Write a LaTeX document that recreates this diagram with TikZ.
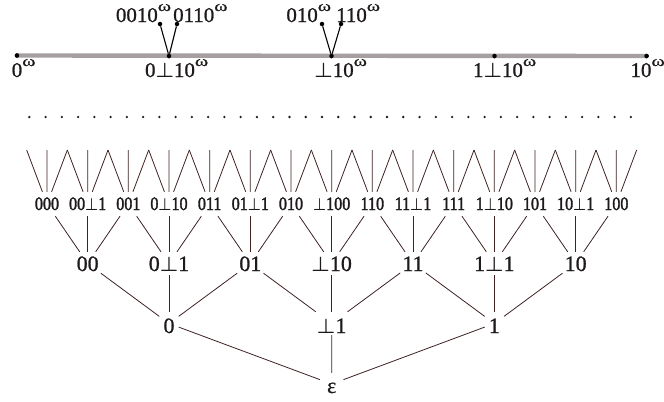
\documentclass[tikz,border=0pt]{standalone}
\usepackage{fontspec}
\setmainfont{Liberation Serif}[FakeBold=1]
\newfontfamily\heavyser{Liberation Serif}[FakeBold=2]
\usepackage{graphicx}
\definecolor{edgec}{RGB}{62,34,34}
\definecolor{ink}{RGB}{30,26,26}
\definecolor{barc}{RGB}{165,159,159}
\newcommand{\om}{\raisebox{11bp}{\fontsize{15}{15}\selectfont\scalebox{1.35}[1]{ω}}}
\newcommand{\nar}[1]{\scalebox{0.85}[1]{#1}}
\newcommand{\bt}{{\boldmath$\bot$}}
\tikzset{
 lone/.style={font=\fontsize{22}{22}\selectfont, text height=20bp, text depth=1bp, inner ysep=1bp, inner xsep=4bp, anchor=base, text=ink},
 ltwo/.style={font=\fontsize{22}{22}\selectfont, text height=18bp, text depth=3bp, inner ysep=1bp, inner xsep=2bp, anchor=base, text=ink},
 lthree/.style={font=\heavyser\fontsize{19}{19}\selectfont, text height=17bp, text depth=5bp, inner ysep=1bp, inner xsep=0.5bp, anchor=base, text=ink},
 lroot/.style={font=\fontsize{22}{22}\selectfont, text height=19bp, text depth=1bp, inner ysep=1bp, inner xsep=7bp, anchor=base, text=ink},
 ltop/.style={font=\fontsize{21}{21}\selectfont, inner sep=0pt, text=ink},
 tedge/.style={draw=edgec, line width=0.8bp},
 kedge/.style={draw=black, line width=1.1bp},
 pdot/.style={circle, fill=black, inner sep=0pt, minimum size=4.5bp},
 grayline/.style={draw=barc, line width=4.4bp}
}
\begin{document}
\begin{tikzpicture}[x=1bp,y=-1bp]
\useasboundingbox (0,0) rectangle (664,401);

% gray line with limit points
\node[pdot] (g0) at (17,55.5) {};
\node[pdot] (g1) at (169,56) {};
\node[pdot] (g2) at (331.5,56) {};
\node[pdot] (g3) at (494.5,56) {};
\node[pdot] (g4) at (646.5,56) {};
\draw[grayline] (g0.center) -- (g4.center);
\foreach \g in {g0,g1,g2,g3,g4} \node[pdot] at (\g) {};

\node[ltop, anchor=base] (l0) at (17,77) {0\rlap{\om}};
\node[ltop, anchor=base] (l1) at (170,77) {0\bt10\rlap{\om}};
\node[ltop, anchor=base] (l2) at (334,77) {\bt10\rlap{\om}};
\node[ltop, anchor=base] (l3) at (498,77) {1\bt10\rlap{\om}};
\node[ltop, anchor=base] (l4) at (641,77) {10\rlap{\om}};

% branches above
\node[pdot] (p1) at (160,24) {};
\node[pdot] (p2) at (177,24) {};
\node[pdot] (q1) at (322,24) {};
\node[pdot] (q2) at (341,24) {};
\draw[kedge] (g1) -- (p1);
\draw[kedge] (g1) -- (p2);
\draw[kedge] (g2) -- (q1);
\draw[kedge] (g2) -- (q2);
\node[ltop, anchor=base east] (lp1) at (158,22) {0010\rlap{\om}};
\node[ltop, anchor=base west] (lp2) at (173,22) {0110\om};
\node[ltop, anchor=base east] (lq1) at (318,22) {010\rlap{\om}};
\node[ltop, anchor=base west] (lq2) at (336,22) {110\om};

% dotted row
\foreach \k in {0,...,37} \fill[ink] ({29.3+16.26*\k},117) circle (1.3bp);

% free ends of the top edges
\foreach \k in {0,...,30} \coordinate (t\k) at ({26.67+20.333*\k},150);

% level 3
\foreach \i/\t in {0/000, 1/00\bt1, 2/001, 3/0\bt10, 4/011, 5/01\bt1, 6/010, 7/\bt100, 8/110, 9/11\bt1, 10/111, 11/1\bt10, 12/101, 13/10\bt1, 14/100}
  \node[lthree] (c\i) at ({47+40.667*\i},210) {\nar{\t}};
\foreach \i in {0,...,14} {
  \pgfmathtruncatemacro\ka{2*\i}
  \pgfmathtruncatemacro\kb{2*\i+1}
  \pgfmathtruncatemacro\kc{2*\i+2}
  \draw[tedge] (c\i) -- (t\ka);
  \draw[tedge] (c\i) -- (t\kb);
  \draw[tedge] (c\i) -- (t\kc);
}

% level 2
\foreach \j/\t in {0/00, 1/0\bt1, 2/01, 3/\bt10, 4/11, 5/1\bt1, 6/10}
  \node[ltwo] (b\j) at ({47+40.667*(2*\j+1)},271) {\t};
\foreach \j in {0,...,6} {
  \pgfmathtruncatemacro\ca{2*\j}
  \pgfmathtruncatemacro\cb{2*\j+1}
  \pgfmathtruncatemacro\cc{2*\j+2}
  \draw[tedge] (b\j) -- (c\ca);
  \draw[tedge] (b\j) -- (c\cb);
  \draw[tedge] (b\j) -- (c\cc);
}

% level 1
\foreach \k/\t in {0/0, 1/\bt1, 2/1}
  \node[lone] (a\k) at ({47+40.667*(4*\k+3)},333) {\t};
\foreach \k in {0,...,2} {
  \pgfmathtruncatemacro\ba{2*\k}
  \pgfmathtruncatemacro\bb{2*\k+1}
  \pgfmathtruncatemacro\bc{2*\k+2}
  \draw[tedge] (a\k) -- (b\ba);
  \draw[tedge] (a\k) -- (b\bb);
  \draw[tedge] (a\k) -- (b\bc);
}

% root
\node[lroot] (r) at (331.7,393) {ε};
\draw[tedge] (r) -- (a0);
\draw[tedge] (r) -- (a1);
\draw[tedge] (r) -- (a2);
\end{tikzpicture}
\end{document}
